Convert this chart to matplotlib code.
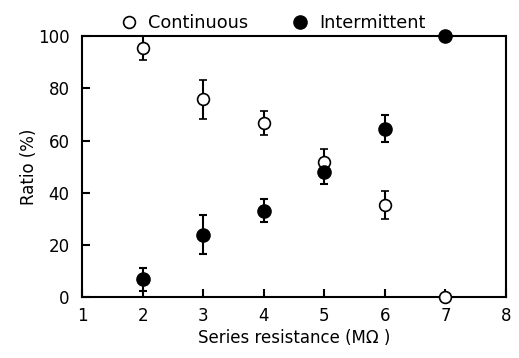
import numpy as np
import matplotlib
matplotlib.use("Agg")
import matplotlib.pyplot as plt

plt.rcParams['font.family'] = ['DejaVu Sans']

resistance = [2, 3, 4, 5, 6, 7]
continuous = [95.3, 75.8, 66.8, 51.8, 35.3, 0]
continuous_err = [4.6, 7.5, 4.5, 5.0, 5.2, 0]
intermittent = [6.8, 24.0, 33.1, 48.0, 64.6, 100]
intermittent_err = [4.4, 7.3, 4.5, 4.8, 5.1, 0]

fig = plt.figure(figsize=(5.19, 3.58), dpi=100)
ax = fig.add_axes([0.158, 0.170, 0.817, 0.729])

eb_kw = dict(fmt='o', ecolor='black', elinewidth=1.5, capsize=3, capthick=1.5,
             clip_on=False, zorder=3)
h1 = ax.errorbar(resistance, continuous, yerr=continuous_err, mfc='white', mec='black',
                 mew=1.2, ms=8.5, label='Continuous', **eb_kw)
h2 = ax.errorbar(resistance, intermittent, yerr=intermittent_err, mfc='black', mec='black',
                 ms=9.5, label='Intermittent', **eb_kw)
for h in (h1, h2):
    for art in h.lines[1] + h.lines[2]:
        art.set_clip_on(False)

ax.set_xlim(1, 8)
ax.set_ylim(0, 100)
ax.set_xticks(range(1, 9))
ax.set_yticks(range(0, 101, 20))
ax.tick_params(direction='in', length=5.5, width=1.5, labelsize=12,
               top=False, right=False)
ax.tick_params(axis='y', pad=9)
ax.tick_params(axis='x', pad=7)
for s in ax.spines.values():
    s.set_linewidth(1.5)

ax.set_xlabel('Series resistance (MΩ )', fontsize=12, labelpad=3)
ax.set_ylabel('Ratio (%)', fontsize=12, labelpad=0)

ax.legend(handles=[h1[0], h2[0]], labels=['Continuous', 'Intermittent'],
          loc='lower center', bbox_to_anchor=(0.45, 1.01), ncol=2, frameon=False,
          fontsize=12.8, handletextpad=0.6, columnspacing=2.4, handlelength=1.0,
          borderaxespad=0.0, borderpad=0.1)

fig.savefig('out.png', dpi=100)
